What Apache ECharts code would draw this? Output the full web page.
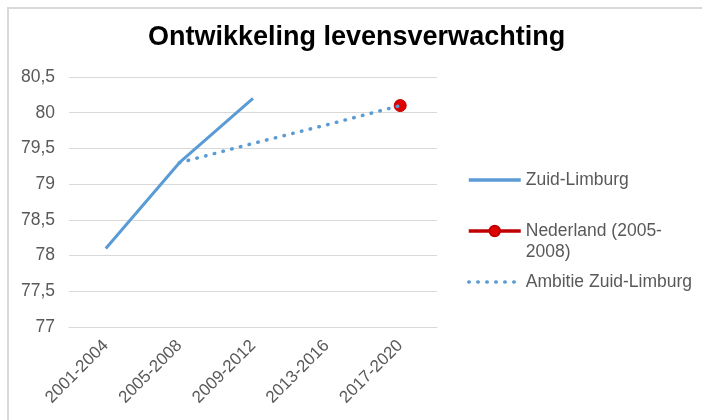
<!DOCTYPE html>
<html>
<head>
<meta charset="utf-8">
<script src="https://cdn.jsdelivr.net/npm/echarts@6/dist/echarts.min.js"></script>
<style>
  html, body { margin: 0; padding: 0; background: #fff; }
  #main { width: 702px; height: 420px; }
</style>
</head>
<body>
<div id="main"></div>
<script>
var chartDom = document.getElementById('main');
var myChart = echarts.init(chartDom);
var option;

// periods on the x axis
const periods = ['2001-2004', '2005-2008', '2009-2012', '2013-2016', '2017-2020'];

// values
const zuidLimburg = [78.1, 79.3, 80.2, '-', '-'];
const nederland = ['-', '-', '-', '-', 80.1];
const ambitie = ['-', 79.3, 79.57, 79.83, 80.1];

const blue = '#5b9bd5';
const red = '#c00000';
const textGrey = '#595959';
const font = 'Liberation Sans, Arial, sans-serif';

// shared legend text look
const legendText = { fontFamily: font, fontSize: 17.5, lineHeight: 21, color: textGrey };

option = {
    backgroundColor: '#fff',
    title: {
        text: 'Ontwikkeling levensverwachting',
        left: 143,
        top: 19,
        textStyle: {
            fontFamily: font,
            fontSize: 27,
            fontWeight: 'bold',
            color: '#000'
        }
    },
    graphic: [
        {
            // chart area frame (runs off the right and bottom edge)
            type: 'rect',
            left: 5.5,
            top: 5.5,
            shape: { width: 720, height: 440 },
            style: { fill: 'none', stroke: '#d9d9d9', lineWidth: 2 },
            silent: true
        }
    ],
    legend: [
        {
            data: ['Zuid-Limburg'],
            left: 467,
            top: 169.5,
            padding: 0,
            itemWidth: 52,
            itemHeight: 14,
            itemStyle: { opacity: 0 },
            lineStyle: { width: 3.5 },
            textStyle: legendText
        },
        {
            data: ['Nederland (2005-2008)'],
            left: 467,
            top: 199.5,
            padding: 0,
            itemWidth: 52,
            itemHeight: 13,
            lineStyle: { width: 3.5 },
            // blank first line so the icon sits next to the first text line
            formatter: function () {
                return ' \nNederland (2005-\n2008)';
            },
            textStyle: legendText
        },
        {
            data: ['Ambitie Zuid-Limburg'],
            left: 467,
            top: 271.5,
            padding: 0,
            itemWidth: 52,
            itemHeight: 14,
            itemStyle: { opacity: 0 },
            lineStyle: { width: 3.5 },
            textStyle: legendText
        }
    ],
    grid: {
        left: 69,
        right: 265,
        top: 77,
        bottom: 93
    },
    xAxis: {
        type: 'category',
        data: periods,
        boundaryGap: true,
        axisLine: { lineStyle: { color: '#d9d9d9', width: 1 } },
        axisTick: { show: false },
        axisLabel: {
            rotate: 45,
            margin: 16,
            fontFamily: font,
            fontSize: 17,
            color: textGrey
        }
    },
    yAxis: {
        type: 'value',
        min: 77,
        max: 80.5,
        interval: 0.5,
        axisLine: { show: false },
        axisTick: { show: false },
        splitLine: { lineStyle: { color: '#d9d9d9', width: 1 } },
        axisLabel: {
            margin: 14,
            fontFamily: font,
            fontSize: 17.5,
            color: textGrey,
            formatter: function (v) {
                return String(v).replace('.', ',');
            }
        }
    },
    series: [
        {
            name: 'Zuid-Limburg',
            type: 'line',
            data: zuidLimburg,
            symbol: 'none',
            lineStyle: { color: blue, width: 3 },
            itemStyle: { color: blue }
        },
        {
            name: 'Nederland (2005-2008)',
            type: 'line',
            data: nederland,
            symbol: 'circle',
            symbolSize: 12,
            lineStyle: { color: red, width: 3 },
            itemStyle: { color: '#e00000', borderColor: red, borderWidth: 1 }
        },
        {
            name: 'Ambitie Zuid-Limburg',
            type: 'line',
            data: ambitie,
            symbol: 'none',
            z: 5,
            lineStyle: {
                color: blue,
                width: 3.5,
                type: [0.5, 8.5],
                cap: 'round'
            },
            itemStyle: { color: blue }
        }
    ],
    animation: false
};

myChart.setOption(option);
</script>
</body>
</html>
